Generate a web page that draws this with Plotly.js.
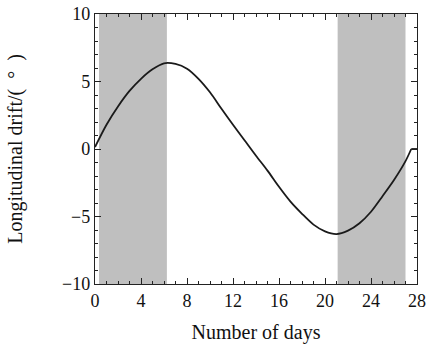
<!DOCTYPE html>
<html>
<head>
<meta charset="utf-8">
<script src="https://cdn.plot.ly/plotly-3.0.1.min.js"></script>
<style>html,body{margin:0;padding:0;background:#fff;}#chart{width:427px;height:345px;}</style>
</head>
<body>
<div id="chart"></div>
<script>
const days = [0,1,2,3,4,5,6,7,8,9,10,11,12,13,14,15,16,17,18,19,20,21,22,23,24,25,26,27,27.5,28];
const drift = [0.15,1.8,3.15,4.3,5.2,5.9,6.35,6.3,5.95,5.2,4.2,2.98,1.8,0.65,-0.5,-1.6,-2.8,-3.9,-4.8,-5.6,-6.1,-6.3,-6.05,-5.5,-4.65,-3.5,-2.3,-0.9,0,0];
const bandStarts = [0.35, 21.1];
const bandEnds = [6.25, 27.0];
const xTicks = [0,4,8,12,16,20,24,28];
const yTicks = [-10,-5,0,5,10];

const tickFont = {family: '"Liberation Serif", "Times New Roman", serif', size: 18, color: '#111'};
const titleFont = {family: '"Liberation Serif", "Times New Roman", serif', size: 20, color: '#111'};
const shapes = bandStarts.map((s, i) => ({
  type: 'rect', xref: 'x', yref: 'paper', x0: s, x1: bandEnds[i], y0: 0, y1: 1,
  fillcolor: '#bfbfbf', line: {width: 0}, layer: 'below'
}));

const kink = days.length - 2;
const lineStyle = {color: '#1a1a1a', width: 1.8};
const traces = [
  {x: days.slice(0, kink + 1), y: drift.slice(0, kink + 1), mode: 'lines', type: 'scatter',
   line: Object.assign({shape: 'spline', smoothing: 0.8}, lineStyle), hoverinfo: 'skip'},
  {x: days.slice(kink), y: drift.slice(kink), mode: 'lines', type: 'scatter',
   line: Object.assign({shape: 'linear'}, lineStyle), hoverinfo: 'skip'}
];

const axisCommon = {showgrid: false, zeroline: false, showline: true, linecolor: '#222', linewidth: 1.2,
  mirror: 'allticks', ticks: 'inside', ticklen: 6, tickwidth: 1, tickcolor: '#222', tickfont: tickFont};

const layout = {
  width: 427, height: 345,
  margin: {l: 95, r: 10, t: 14, b: 61},
  paper_bgcolor: '#fff', plot_bgcolor: '#fff',
  showlegend: false,
  font: tickFont,
  shapes: shapes,
  xaxis: Object.assign({}, axisCommon, {range: [0, 28], tickvals: xTicks, ticktext: xTicks.map(String),
    minor: {dtick: 1, ticks: 'inside', ticklen: 3, tickcolor: '#222', showgrid: false},
    title: {text: 'Number of days', font: titleFont, standoff: 15}}),
  yaxis: Object.assign({}, axisCommon, {range: [-10, 10], tickvals: yTicks, ticktext: yTicks.map(v => v < 0 ? '\u2212' + Math.abs(v) : String(v)),
    minor: {dtick: 1, ticks: 'inside', ticklen: 3, tickcolor: '#222', showgrid: false},
    title: {text: 'Longitudinal drift/(  \u00B0  )', font: titleFont, standoff: 34}})
};

Plotly.newPlot('chart', traces, layout, {displayModeBar: false, staticPlot: true});
</script>
</body>
</html>
